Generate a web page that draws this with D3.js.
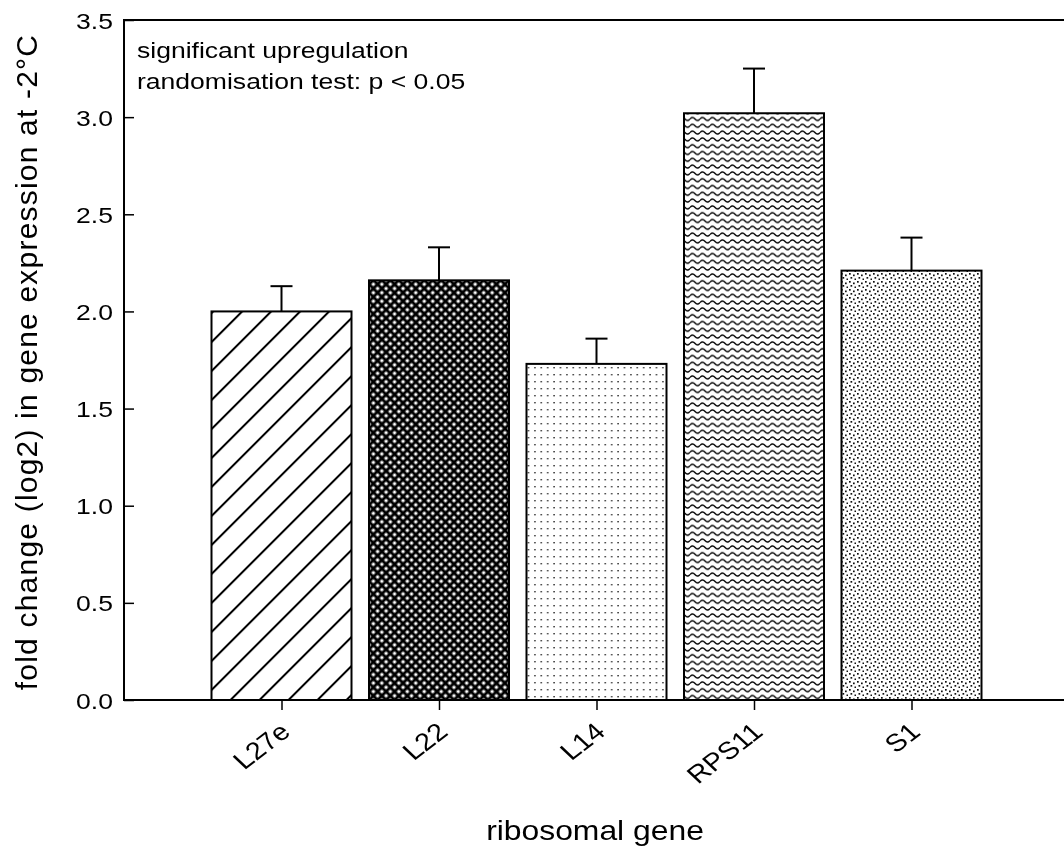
<!DOCTYPE html>
<html>
  <head>
    <title></title>
    <style type="text/css">
        html, body{
            padding: 0px;
            margin: 0px;
            background: #ffffff;
            font-family: "Liberation Sans", Arial, sans-serif;
        }
        #vis{
            position: fixed;
            top: 0px;
            left: 0px;
        }
    </style>
  </head>
  <body>
    <div id="vis"></div>
    <script src="https://cdnjs.cloudflare.com/ajax/libs/d3/7.8.5/d3.min.js"></script>
    <script type="text/javascript">

        // data
        var genes = ["L27e", "L22", "L14", "RPS11", "S1"];
        var foldChange = [2.00, 2.16, 1.73, 3.02, 2.21];
        var errorUp = [0.13, 0.17, 0.13, 0.23, 0.17];
        var yTicks = [0.0, 0.5, 1.0, 1.5, 2.0, 2.5, 3.0, 3.5];
        var patternIds = ["hatch", "cross", "dots", "wave", "speckle"];

        var width = 1064, height = 847;
        // plot box ("top" is taken on window, so other names)
        var plotL = 124, plotT = 20, plotB = 700, plotR = 1069;
        // horizontal text in the source is a bit wide
        var sx = 1.18;

        var svg = d3.select("#vis").append("svg")
            .attr("width", width)
            .attr("height", height)
            .style("font-family", "Liberation Sans, Arial, sans-serif");

        var defs = svg.append("defs");

        // diagonal hatch
        var p1 = defs.append("pattern")
            .attr("id", "hatch")
            .attr("patternUnits", "userSpaceOnUse")
            .attr("width", 20.5).attr("height", 20.5)
            .attr("patternTransform", "rotate(45)");
        p1.append("rect").attr("width", 20.5).attr("height", 20.5).attr("fill", "#fff");
        p1.append("line").attr("x1", 2).attr("y1", 0).attr("x2", 2).attr("y2", 20.5)
            .attr("stroke", "#000").attr("stroke-width", 2);

        // dense crosshatch
        var p2 = defs.append("pattern")
            .attr("id", "cross")
            .attr("patternUnits", "userSpaceOnUse")
            .attr("width", 6).attr("height", 6)
            .attr("patternTransform", "rotate(45)");
        p2.append("rect").attr("width", 6).attr("height", 6).attr("fill", "#000");
        p2.append("rect").attr("x", 1.5).attr("y", 1.5).attr("width", 3).attr("height", 3).attr("fill", "#fff");

        // sparse dots
        var p3 = defs.append("pattern")
            .attr("id", "dots")
            .attr("patternUnits", "userSpaceOnUse")
            .attr("width", 6.4).attr("height", 7);
        p3.append("rect").attr("width", 6.4).attr("height", 7).attr("fill", "#fff");
        p3.append("rect").attr("x", 3).attr("y", 3).attr("width", 1.4).attr("height", 1.4).attr("fill", "#222");

        // waves
        var p4 = defs.append("pattern")
            .attr("id", "wave")
            .attr("patternUnits", "userSpaceOnUse")
            .attr("width", 10).attr("height", 6.8);
        p4.append("rect").attr("width", 10).attr("height", 6.8).attr("fill", "#fff");
        p4.append("path")
            .attr("d", "M0,3.4 Q2.5,0.4 5,3.4 T10,3.4")
            .attr("fill", "none").attr("stroke", "#000").attr("stroke-width", 1.4);

        // staggered speckle
        var p5 = defs.append("pattern")
            .attr("id", "speckle")
            .attr("patternUnits", "userSpaceOnUse")
            .attr("width", 8).attr("height", 8);
        p5.append("rect").attr("width", 8).attr("height", 8).attr("fill", "#fff");
        [[1, 1], [5, 2.5], [2.5, 5], [6.5, 6.5]].forEach(function(d){
            p5.append("rect").attr("x", d[0]).attr("y", d[1])
                .attr("width", 1.7).attr("height", 1.7).attr("fill", "#111");
        });

        var x = d3.scalePoint()
            .domain(genes)
            .range([plotL, plotR])
            .padding(1);

        var barW = 140;

        var y = d3.scaleLinear()
            .domain([0, 3.5])
            .range([plotB, plotT]);

        // bars
        var bars = svg.selectAll(".bar")
            .data(genes)
            .enter().append("g").attr("class", "bar");

        // error bars (upper only)
        bars.append("line")
            .attr("x1", function(d){ return x(d); })
            .attr("x2", function(d){ return x(d); })
            .attr("y1", function(d, i){ return y(foldChange[i]); })
            .attr("y2", function(d, i){ return y(foldChange[i] + errorUp[i]); })
            .attr("stroke", "#000").attr("stroke-width", 2);
        bars.append("line")
            .attr("x1", function(d){ return x(d) - 11; })
            .attr("x2", function(d){ return x(d) + 11; })
            .attr("y1", function(d, i){ return y(foldChange[i] + errorUp[i]); })
            .attr("y2", function(d, i){ return y(foldChange[i] + errorUp[i]); })
            .attr("stroke", "#000").attr("stroke-width", 2);

        bars.append("rect")
            .attr("x", function(d){ return x(d) - barW / 2; })
            .attr("width", barW)
            .attr("y", function(d, i){ return y(foldChange[i]); })
            .attr("height", function(d, i){ return plotB - y(foldChange[i]); })
            .attr("fill", function(d, i){ return "url(#" + patternIds[i] + ")"; })
            .attr("stroke", "#000")
            .attr("stroke-width", 2);

        // frame
        svg.append("rect")
            .attr("x", plotL).attr("y", plotT)
            .attr("width", plotR - plotL).attr("height", plotB - plotT)
            .attr("fill", "none").attr("stroke", "#000").attr("stroke-width", 2);

        // y axis: ticks inside
        var yAxis = d3.axisRight(y)
            .tickValues(yTicks)
            .tickSize(10)
            .tickFormat(d3.format(".1f"));
        var gy = svg.append("g")
            .attr("transform", "translate(" + plotL + ",0)")
            .call(yAxis);
        gy.select(".domain").remove();
        gy.selectAll(".tick line").attr("stroke-width", 1.5);
        gy.selectAll(".tick text")
            .attr("x", 0)
            .attr("dy", "0.36em")
            .attr("transform", "translate(-11,0) scale(" + sx + ",1)")
            .attr("text-anchor", "end")
            .attr("font-size", 22.5)
            .attr("font-family", "Liberation Sans, Arial, sans-serif")
            .attr("fill", "#000");

        // x axis: ticks outside, rotated labels
        var xAxis = d3.axisBottom(x).tickSize(10).tickSizeOuter(0);
        var gx = svg.append("g")
            .attr("transform", "translate(0," + plotB + ")")
            .call(xAxis);
        gx.select(".domain").remove();
        gx.selectAll(".tick line").attr("stroke-width", 1.5);
        gx.selectAll(".tick text")
            .attr("y", 0)
            .attr("dy", 0)
            .attr("text-anchor", "end")
            .attr("transform", "translate(10,34) scale(" + sx + ",1) rotate(-42)")
            .attr("font-size", 24.5)
            .attr("font-family", "Liberation Sans, Arial, sans-serif")
            .attr("fill", "#000");

        // axis titles
        svg.append("text")
            .attr("transform", "translate(595,840) scale(" + sx + ",1)")
            .attr("text-anchor", "middle")
            .attr("font-size", 27)
            .text("ribosomal gene");

        svg.append("text")
            .attr("transform", "translate(37,362) rotate(-90)")
            .attr("text-anchor", "middle")
            .attr("font-size", 30)
            .attr("letter-spacing", 1.2)
            .text("fold change (log2) in gene expression at -2°C");

        // annotation
        svg.append("text")
            .attr("transform", "translate(137,58) scale(" + sx + ",1)")
            .attr("font-size", 22.5)
            .text("significant upregulation");
        svg.append("text")
            .attr("transform", "translate(137,89) scale(" + sx + ",1)")
            .attr("font-size", 22.5)
            .text("randomisation test: p < 0.05");

    </script>
  </body>
</html>
